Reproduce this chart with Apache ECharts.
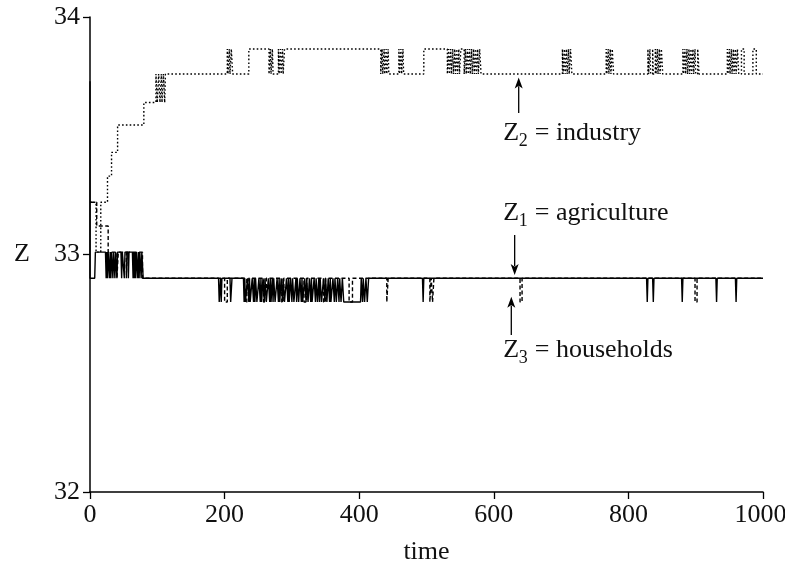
<!DOCTYPE html>
<html>
<head>
<meta charset="utf-8">
<script src="https://cdn.jsdelivr.net/npm/echarts@6/dist/echarts.min.js"></script>
<style>
  html, body { margin: 0; padding: 0; background: #fff; overflow: hidden; }
  #chart { width: 785px; height: 570px; }
</style>
</head>
<body>
<div id="chart"></div>
<script>
// ---- Sector incomes Z over time ----
const xTicks = [0, 200, 400, 600, 800, 1000];
const yTicks = [32, 33, 34];

// Industry (Z2): early staircase, then switching between two levels
const industryRamp = [
  [0, 33.22], [9, 33.22], [9, 33.01], [16, 33.01], [16, 33.22], [26, 33.22],
  [26, 33.33], [32, 33.33], [32, 33.43], [41, 33.43], [41, 33.545], [80, 33.545],
  [80, 33.64], [98, 33.64], [98, 33.76], [100, 33.76], [100, 33.64], [102, 33.64],
  [102, 33.76], [104, 33.76], [104, 33.64], [106, 33.64], [106, 33.76], [107, 33.76],
  [107, 33.64], [109, 33.64], [109, 33.76], [111, 33.76], [111, 33.64], [112, 33.64],
  [112, 33.76]
];
const industryLevels = [33.76, 33.865];
const industryHighSpells = [
  [204, 205], [207, 208], [210, 212],
  [236, 266], [268, 269], [271, 272],
  [280, 281], [283, 284], [286, 287], [289, 432],
  [434, 435], [437, 438], [440, 441], [443, 444],
  [459, 460], [462, 463], [465, 466],
  [496, 531], [533, 534], [536, 537], [539, 540], [542, 543], [545, 546], [548, 549],
  [551, 556], [558, 559], [561, 562], [564, 565], [567, 568], [570, 571], [573, 574],
  [576, 577], [579, 581],
  [702, 703], [705, 706], [708, 709], [711, 712], [714, 716],
  [767, 768], [770, 771], [773, 774], [776, 778],
  [829, 830], [832, 833], [836, 837], [840, 841], [843, 844], [846, 847], [849, 851],
  [881, 882], [884, 885], [887, 888], [890, 891], [893, 894], [896, 897], [899, 900], [903, 905],
  [947, 948], [950, 951], [953, 954], [956, 957], [959, 960], [962, 964],
  [968, 972], [985, 990]
];

// Agriculture (Z1)
const agricultureStart = [[0, 33.73], [0, 32.9], [7, 32.9], [8, 33.01]];
const agricultureEarlyLevels = [33.01, 32.9];
const agricultureEarlyDips = [
  [24, 24], [26, 26], [29, 29], [31, 31], [34, 34], [37, 37], [40, 40],
  [47, 47], [51, 51], [57, 57], [64, 64], [66, 66], [68, 68], [71, 71], [73, 73], [76, 76]
];
const agricultureSettle = [[78, 33.01], [79, 32.9]];
const agricultureLevels = [32.9, 32.8];
const agricultureLowSpells = [
  [192, 193], [195, 195], [209, 210],
  [229, 229], [231, 233], [236, 236], [238, 240], [243, 243], [245, 245], [248, 250],
  [253, 253], [255, 256], [259, 259], [262, 264], [267, 267], [269, 270], [272, 272],
  [275, 277], [280, 280], [282, 283], [286, 286], [289, 291], [294, 294], [296, 297],
  [300, 300], [303, 305], [307, 307], [310, 311], [314, 314], [316, 318], [321, 321],
  [324, 325], [328, 328], [330, 332], [335, 335], [338, 339], [341, 341], [344, 346],
  [349, 349], [352, 353], [356, 356], [358, 360], [363, 363], [366, 367], [370, 370],
  [373, 374], [377, 402], [405, 405], [408, 409], [412, 413],
  [495, 495], [828, 828], [837, 837], [880, 880], [931, 931], [960, 960]
];

// Households (Z3)
const householdsStart = [[0, 33.22], [10, 33.22], [10, 33.12], [27, 33.12], [27, 33.01]];
const householdsEarlyLevels = [33.01, 32.9];
const householdsEarlyDips = [[40, 42], [54, 55]];
const householdsSettle = [[78, 33.01], [78, 32.9]];
const householdsLevels = [32.9, 32.8];
const householdsLowSpells = [
  [200, 204], [233, 236], [258, 262], [285, 288], [318, 322], [347, 350], [385, 390],
  [441, 443], [505, 507], [509, 511], [639, 642], [899, 902]
];

const tEnd = 1000;

// Append level switches as polyline vertices (vertical edges, or narrow V's when sloped)
function addSpells(pts, levels, spells, sloped) {
  const s = sloped ? 1 : 0;
  for (const [a, b] of spells) {
    pts.push([a - s, levels[0]], [a, levels[1]], [b, levels[1]], [b + s, levels[0]]);
  }
  return pts;
}

const industryData = addSpells(industryRamp.slice(), industryLevels, industryHighSpells, false);
industryData.push([tEnd, industryLevels[0]]);

const agricultureData = agricultureStart.slice();
addSpells(agricultureData, agricultureEarlyLevels, agricultureEarlyDips, true);
agricultureData.push(...agricultureSettle);
addSpells(agricultureData, agricultureLevels, agricultureLowSpells, true);
agricultureData.push([tEnd, agricultureLevels[0]]);

const householdsData = householdsStart.slice();
addSpells(householdsData, householdsEarlyLevels, householdsEarlyDips, false);
householdsData.push(...householdsSettle);
addSpells(householdsData, householdsLevels, householdsLowSpells, false);
householdsData.push([tEnd, householdsLevels[0]]);

const FONT = 'Liberation Serif';
const INK = '#111';
const FS = 26;

const chart = echarts.init(document.getElementById('chart'), null, {
  renderer: 'canvas', width: 785, height: 570
});

const lineSeries = (name, data, type) => ({
  name, type: 'line', data, showSymbol: false, symbol: 'none',
  sampling: null, animation: false, z: 3,
  lineStyle: { color: '#000', width: 1.4, type }
});

const xMax = xTicks[xTicks.length - 1];

chart.setOption({
  animation: false,
  backgroundColor: '#fff',
  grid: {
    left: 90, right: 22, top: 17, bottom: 78,
    containLabel: false, outerBoundsMode: 'none'
  },
  xAxis: {
    type: 'value', min: xTicks[0], max: xMax, interval: xTicks[1] - xTicks[0],
    name: 'time', nameLocation: 'middle', nameGap: 47,
    nameTextStyle: { fontFamily: FONT, fontSize: FS, color: INK },
    axisLine: { show: true, onZero: false, lineStyle: { color: '#000', width: 1.5 } },
    axisTick: { show: true, length: 7, lineStyle: { color: '#000', width: 1.3 } },
    axisLabel: {
      fontFamily: FONT, fontSize: FS, color: INK, margin: 10,
      // the last label is nudged left so it stays inside the canvas
      formatter: v => (v === xMax ? '{end|' + v + '}' : String(v)),
      rich: { end: { fontFamily: FONT, fontSize: FS, color: INK, padding: [0, 5, 0, 0] } }
    },
    splitLine: { show: false }
  },
  yAxis: {
    type: 'value', min: yTicks[0], max: yTicks[yTicks.length - 1], interval: yTicks[1] - yTicks[0],
    name: 'Z', nameLocation: 'middle', nameRotate: 0, nameGap: 60,
    nameTextStyle: { fontFamily: FONT, fontSize: FS, color: INK },
    axisLine: { show: true, onZero: false, lineStyle: { color: '#000', width: 1.5 } },
    axisTick: { show: true, length: 7, lineStyle: { color: '#000', width: 1.3 } },
    axisLabel: { fontFamily: FONT, fontSize: FS, color: INK, margin: 10, formatter: v => String(v) },
    splitLine: { show: false }
  },
  series: [
    lineSeries('industry', industryData, [1.6, 2.2]),
    lineSeries('agriculture', agricultureData, 'solid'),
    lineSeries('households', householdsData, [4, 2.5])
  ]
});

// ---- Labels and arrows, placed in data coordinates ----
const annotations = [
  { digit: '2', name: 'industry',    text: [614, 33.512], arrow: [637, 33.745, 33.596] },
  { digit: '1', name: 'agriculture', text: [614, 33.175], arrow: [631, 32.914, 33.082] },
  { digit: '3', name: 'households',  text: [614, 32.598], arrow: [626, 32.822, 32.661] }
];

const toPx = (t, z) => chart.convertToPixel({ gridIndex: 0 }, [t, z]);
const graphics = [];
annotations.forEach(a => {
  const [tx, ty] = toPx(a.text[0], a.text[1]);
  const base = { fontFamily: FONT, fill: INK, textAlign: 'left', textVerticalAlign: 'middle' };
  graphics.push({ type: 'text', x: tx, y: ty, style: Object.assign({ text: 'Z', fontSize: FS }, base) });
  graphics.push({ type: 'text', x: tx + 15.5, y: ty + 8, style: Object.assign({ text: a.digit, fontSize: 18 }, base) });
  graphics.push({ type: 'text', x: tx + 25, y: ty, style: Object.assign({ text: ' = ' + a.name, fontSize: FS }, base) });

  const tip = toPx(a.arrow[0], a.arrow[1]);
  const tail = toPx(a.arrow[0], a.arrow[2]);
  const dir = Math.sign(tail[1] - tip[1]);
  const head = 11, half = 4;
  graphics.push({
    type: 'line', silent: true,
    shape: { x1: tail[0], y1: tail[1], x2: tip[0], y2: tip[1] + dir * head * 0.8 },
    style: { stroke: '#000', lineWidth: 1.3 }
  });
  graphics.push({
    type: 'polygon', silent: true,
    shape: { points: [[tip[0], tip[1]], [tip[0] - half, tip[1] + dir * head], [tip[0], tip[1] + dir * head * 0.75], [tip[0] + half, tip[1] + dir * head]] },
    style: { fill: '#000' }
  });
});
chart.setOption({ graphic: graphics });
</script>
</body>
</html>
